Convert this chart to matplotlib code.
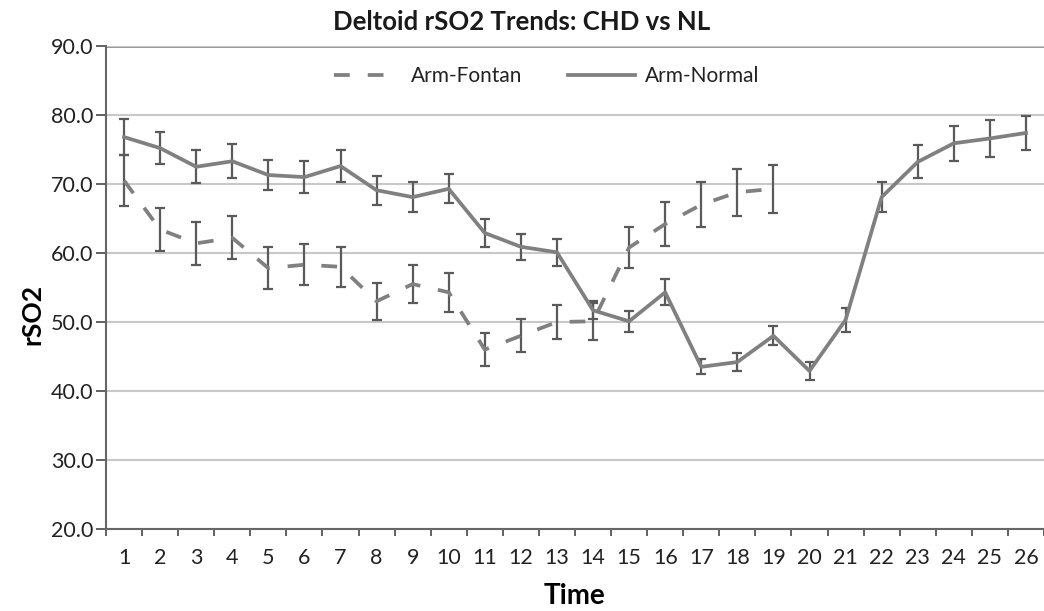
import numpy as np
import matplotlib.pyplot as plt

plt.rcParams['font.family'] = ['Lato', 'DejaVu Sans']

time = np.arange(1, 27)

fontan = [70.5, 63.4, 61.4, 62.2, 57.8, 58.3, 58.0, 53.0, 55.5, 54.3,
          46.0, 48.0, 50.0, 50.1, 60.8, 64.2, 67.0, 68.8, 69.3]
fontan_err = [3.7, 3.1, 3.1, 3.1, 3.0, 3.0, 2.9, 2.7, 2.8, 2.8,
              2.4, 2.4, 2.5, 2.7, 3.0, 3.2, 3.3, 3.4, 3.5]

normal = [76.8, 75.2, 72.5, 73.3, 71.3, 71.0, 72.6, 69.1, 68.1, 69.3,
          62.9, 60.9, 60.1, 51.7, 50.1, 54.3, 43.5, 44.2, 48.0, 42.9,
          50.3, 68.1, 73.2, 75.9, 76.6, 77.4]
normal_err = [2.6, 2.3, 2.4, 2.5, 2.2, 2.3, 2.3, 2.1, 2.2, 2.1,
              2.1, 1.9, 2.0, 1.3, 1.5, 1.9, 1.1, 1.3, 1.4, 1.3,
              1.7, 2.2, 2.4, 2.5, 2.7, 2.4]

W, H = 1044, 611
fig = plt.figure(figsize=(W / 100, H / 100), dpi=100)
ax = fig.add_axes([106 / W, 1 - 529 / H, (W - 106) / W, (529 - 46) / H])

line_c = "#808080"
err_c = "#5a5a5a"

ax.errorbar(time[:len(fontan)], fontan, yerr=fontan_err, color=line_c, lw=2.7,
            ls=(0, (4.2, 4.8)), ecolor=err_c, elinewidth=1.6, capsize=3.8,
            capthick=1.6, label="Arm-Fontan", zorder=3)
ax.errorbar(time, normal, yerr=normal_err, color=line_c, lw=2.7, ls="-",
            ecolor=err_c, elinewidth=1.6, capsize=3.8, capthick=1.6,
            label="Arm-Normal", zorder=4)

ax.set_ylim(20, 90)
ax.set_xlim(0.5, 26.39)
ax.set_yticks(np.arange(20, 91, 10))
ax.set_yticklabels([f"{v:.1f}" for v in range(20, 91, 10)])
ax.set_xticks(time)
ax.set_xticks(np.arange(0.5, 27, 1), minor=True)
ax.tick_params(axis="x", which="major", length=0, pad=14, labelsize=15.5,
               labelcolor="#222222")
ax.tick_params(axis="x", which="minor", length=5, width=1.3, color="#555555")
ax.tick_params(axis="y", length=7, width=1.3, color="#555555", labelsize=15.5,
               pad=2, labelcolor="#222222")

ax.grid(axis="y", color="#c8c8c8", lw=1.5)
ax.axhline(90, color="#7a7a7a", lw=1.8, zorder=1)
for s in ["top", "right"]:
    ax.spines[s].set_visible(False)
for s in ["left", "bottom"]:
    ax.spines[s].set_color("#666666")
    ax.spines[s].set_linewidth(1.5)

fig.text(0.5, 1 - 22 / H, "Deltoid rSO2 Trends: CHD vs NL", fontsize=18.5,
         fontweight="bold", ha="center", va="center", color="#1a1a1a")
ax.set_ylabel("rSO2", fontsize=19, fontweight="bold", va="center")
ax.yaxis.set_label_coords(-0.078, 0.445)
ax.set_xlabel("Time", fontsize=20, fontweight="bold", va="center")
ax.xaxis.set_label_coords(0.5, -0.139)

handles, labels = ax.get_legend_handles_labels()
handles = [h[0] for h in handles]
ax.legend(handles, labels, loc="center", bbox_to_anchor=(0.47, 0.938),
          ncol=2, frameon=False, fontsize=15, handlelength=3.2,
          handletextpad=0.5, columnspacing=2.2, labelcolor="#222222")

fig.savefig("out.png", dpi=100)
